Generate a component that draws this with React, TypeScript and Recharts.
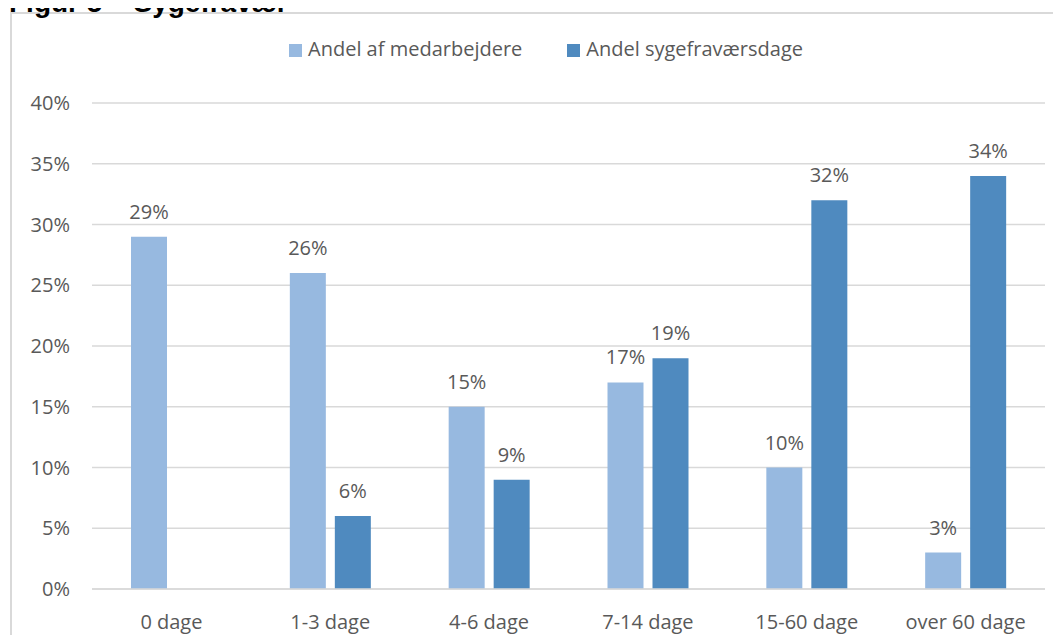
import React from 'react';
import { BarChart, Bar, XAxis, YAxis, CartesianGrid, Legend, LabelList } from 'recharts';

// Sickness absence distribution by length of absence
const categories = ['0 dage', '1-3 dage', '4-6 dage', '7-14 dage', '15-60 dage', 'over 60 dage'];
const andelMedarbejdere = [29, 26, 15, 17, 10, 3];
const andelSygefravaersdage: (number | null)[] = [null, 6, 9, 19, 32, 34];
const yTicks = [0, 5, 10, 15, 20, 25, 30, 35, 40];

const seriesNames = ['Andel af medarbejdere', 'Andel sygefraværsdage'];
const seriesColors = ['#97B9E0', '#4F8ABF'];

const data = categories.map((name, i) => ({
  name,
  medarbejdere: andelMedarbejdere[i],
  sygefravaer: andelSygefravaersdage[i],
}));

const FONT = '"Open Sans", "DejaVu Sans", sans-serif';
const TEXT = '#595959';
const GRID = '#d9d9d9';

const pct = (v: any) => (v === null || v === undefined ? '' : `${v}%`);

const renderLegend = () => (
  <div
    style={{
      display: 'flex',
      justifyContent: 'center',
      alignItems: 'flex-start',
      gap: 45,
      height: 24,
      fontFamily: FONT,
      fontSize: 20,
      lineHeight: '24px',
      color: TEXT,
    }}
  >
    {seriesNames.map((n, i) => (
      <div key={n} style={{ display: 'flex', alignItems: 'flex-start' }}>
        <span
          style={{
            display: 'inline-block',
            width: 13,
            height: 13,
            marginTop: 7,
            marginRight: 6,
            background: seriesColors[i],
          }}
        />
        <span>{n}</span>
      </div>
    ))}
  </div>
);

export default function App() {
  return (
    <div
      style={{
        position: 'relative',
        width: 1061,
        height: 643,
        margin: -8,
        overflow: 'hidden',
        background: '#fff',
      }}
    >
      <div
        style={{
          position: 'absolute',
          left: 10,
          top: 12,
          width: 1100,
          height: 700,
          border: `2px solid ${GRID}`,
        }}
      />
      <div
        style={{
          position: 'absolute',
          left: 9,
          top: -12,
          fontFamily: '"Liberation Sans", Arial, sans-serif',
          fontWeight: 'bold',
          fontSize: 28,
          lineHeight: '30px',
          color: '#000',
          whiteSpace: 'nowrap',
        }}
      >
        Figur 5 – Sygefravær
      </div>
      <div style={{ position: 'absolute', left: 0, top: 0 }}>
        <BarChart
          width={1061}
          height={643}
          data={data}
          margin={{ top: 79, right: 16, bottom: 0, left: 0 }}
          barSize={36}
          barGap={9}
        >
          <CartesianGrid vertical={false} stroke={GRID} strokeWidth={1.5} />
          <XAxis
            dataKey="name"
            height={54}
            axisLine={{ stroke: GRID, strokeWidth: 1.5 }}
            tickLine={false}
            tickSize={0}
            tickMargin={26}
            interval={0}
            tick={{ fill: TEXT, fontSize: 20, fontFamily: FONT }}
          />
          <YAxis
            width={92}
            domain={[0, 40]}
            ticks={yTicks}
            tickFormatter={pct}
            axisLine={false}
            tickLine={false}
            tickSize={0}
            tickMargin={22}
            tick={{ fill: TEXT, fontSize: 20, fontFamily: FONT }}
          />
          <Legend
            verticalAlign="top"
            content={renderLegend}
            wrapperStyle={{ top: 37, left: 0, width: 1092 }}
          />
          <Bar dataKey="medarbejdere" name={seriesNames[0]} fill={seriesColors[0]} isAnimationActive={false}>
            <LabelList
              dataKey="medarbejdere"
              position="top"
              offset={18}
              formatter={pct}
              style={{ fill: TEXT, fontSize: 20, fontFamily: FONT }}
            />
          </Bar>
          <Bar dataKey="sygefravaer" name={seriesNames[1]} fill={seriesColors[1]} isAnimationActive={false}>
            <LabelList
              dataKey="sygefravaer"
              position="top"
              offset={18}
              formatter={pct}
              style={{ fill: TEXT, fontSize: 20, fontFamily: FONT }}
            />
          </Bar>
        </BarChart>
      </div>
    </div>
  );
}
